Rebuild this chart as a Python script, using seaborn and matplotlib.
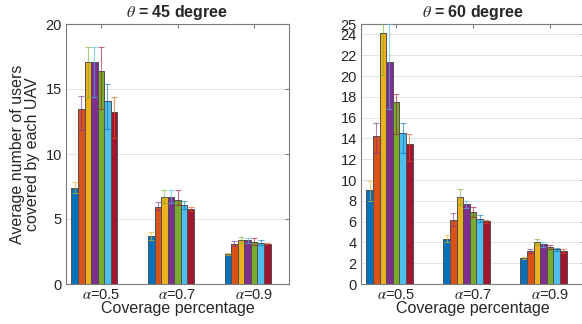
import numpy as np
import pandas as pd
import matplotlib
matplotlib.use('Agg')
import matplotlib.pyplot as plt
import seaborn as sns

sns.set_style('white')
plt.rcParams['font.family'] = ['Liberation Sans', 'DejaVu Sans']
plt.rcParams['mathtext.fontset'] = 'stix'

groups = [r'$\alpha$=0.5', r'$\alpha$=0.7', r'$\alpha$=0.9']
series = ['s1', 's2', 's3', 's4', 's5', 's6', 's7']
colors = ['#0072BD', '#D95319', '#EDB120', '#7E2F8E', '#77AC30', '#4DBEEE', '#A2142F']

# theta = 45 degree, one row per coverage group, one column per series
theta45_mean = [[7.4, 13.5, 17.1, 17.1, 16.4, 14.1, 13.2],
                [3.7, 5.95, 6.67, 6.67, 6.5, 6.05, 5.8],
                [2.3, 3.08, 3.38, 3.36, 3.26, 3.18, 3.08]]
theta45_low = [[7.0, 11.85, 14.35, 14.35, 13.45, 11.9, 11.2],
               [3.38, 5.7, 6.2, 6.2, 6.07, 5.74, 5.64],
               [2.2, 2.9, 3.15, 3.15, 3.0, 3.0, 3.04]]
theta45_high = [[7.85, 14.5, 18.25, 18.25, 18.25, 15.4, 14.35],
                [3.97, 6.28, 7.26, 7.26, 7.26, 6.41, 5.95],
                [2.41, 3.28, 3.59, 3.55, 3.54, 3.38, 3.12]]

# theta = 60 degree
theta60_mean = [[9.0, 14.2, 24.1, 21.3, 17.5, 14.5, 13.5],
                [4.33, 6.18, 8.33, 7.66, 6.92, 6.25, 6.03],
                [2.5, 3.17, 4.0, 3.81, 3.56, 3.33, 3.17]]
theta60_low = [[7.98, 12.56, 20.1, 16.8, 14.4, 12.56, 11.85],
               [4.04, 5.58, 7.6, 7.3, 6.47, 5.96, 5.85],
               [2.4, 2.95, 3.75, 3.6, 3.4, 3.17, 3.0]]
theta60_high = [[9.93, 15.45, 25.5, 25.0, 18.27, 15.45, 14.4],
                [4.68, 6.79, 9.1, 8.0, 7.44, 6.6, 6.2],
                [2.6, 3.4, 4.3, 4.0, 3.72, 3.5, 3.33]]


def toLong(mean, low, high):
    rows = []
    for gi, g in enumerate(groups):
        for si, s in enumerate(series):
            rows.append({'group': g, 'series': s, 'value': mean[gi][si],
                         'low': low[gi][si], 'high': high[gi][si]})
    return pd.DataFrame(rows)


def drawPanel(ax, df, title, ymax, yticks):
    sns.barplot(data=df, x='group', y='value', hue='series', order=groups,
                hue_order=series, palette=colors, saturation=1, width=0.6,
                errorbar=None, edgecolor='#505050', linewidth=0.7, legend=False,
                ax=ax, zorder=2)
    # match each bar with its row by group index and left-to-right order
    bars = sorted(ax.patches, key=lambda p: p.get_x())
    for gi, g in enumerate(groups):
        inGroup = [p for p in bars if round(p.get_x() + p.get_width() / 2) == gi]
        sub = df[df['group'] == g].reset_index(drop=True)
        for si, p in enumerate(inGroup):
            xc = p.get_x() + p.get_width() / 2
            v = sub.loc[si, 'value']
            ax.errorbar(xc, v, yerr=[[v - sub.loc[si, 'low']], [sub.loc[si, 'high'] - v]],
                        fmt='none', ecolor=colors[(si + 2) % 7], alpha=0.6,
                        elinewidth=0.8, capsize=2.2, capthick=0.8, zorder=3)
    ax.set_xlim(-0.37, 2.54)
    ax.set_ylim(0, ymax)
    ax.set_yticks(yticks)
    ax.set_xticks([0.085, 1.085, 2.085])
    ax.set_xticklabels(groups)
    ax.yaxis.grid(True, color='#e3e3e3', linewidth=0.7, zorder=0)
    ax.set_axisbelow(True)
    ax.tick_params(direction='in', length=3, top=True, right=True,
                   color='#7a7a7a', labelcolor='#262626', labelsize=10.5, pad=3)
    for sp in ax.spines.values():
        sp.set_visible(True)
        sp.set_color('#7a7a7a')
        sp.set_linewidth(0.8)
    ax.set_xlabel('Coverage percentage', fontsize=11.5, color='#262626', labelpad=-1)
    ax.set_ylabel('')
    ax.set_title(title, fontsize=11.5, fontweight='bold', pad=5)


fig = plt.figure(figsize=(5.82, 3.24), dpi=100)
ax1 = fig.add_axes([66 / 582, 40 / 324, 223 / 582, 260 / 324])
ax2 = fig.add_axes([361 / 582, 40 / 324, 224 / 582, 260 / 324])

drawPanel(ax1, toLong(theta45_mean, theta45_low, theta45_high),
          r'$\theta$ = 45 degree', 20, [0, 5, 10, 15, 20])
drawPanel(ax2, toLong(theta60_mean, theta60_low, theta60_high),
          r'$\theta$ = 60 degree', 25, list(range(0, 25, 2)) + [25])

ax1.set_ylabel('Average number of users\ncovered by each UAV', fontsize=11.5,
               color='#262626', labelpad=4, linespacing=1.0)

fig.savefig('out.png', dpi=100)
